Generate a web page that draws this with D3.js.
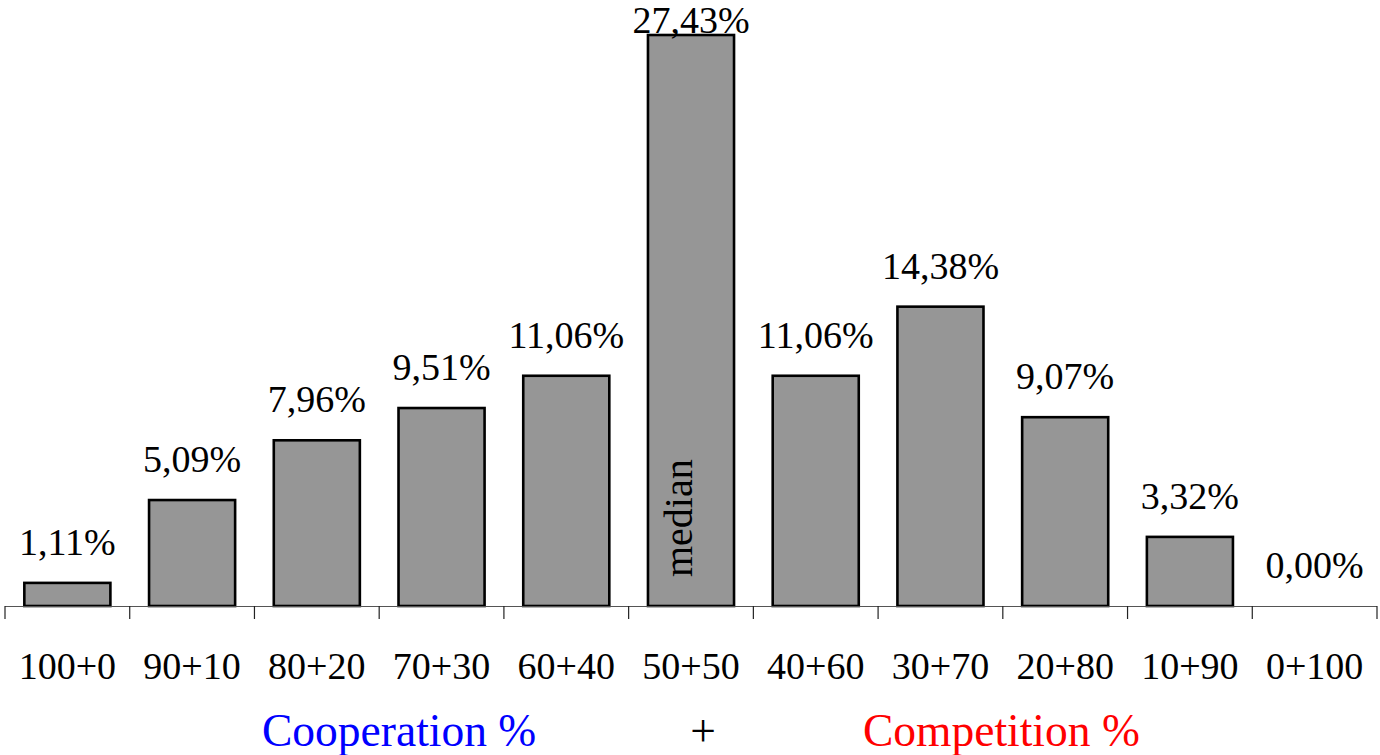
<!DOCTYPE html>
<html>
<head>
<meta charset="utf-8">
<script src="https://cdn.jsdelivr.net/npm/d3@7"></script>
<style>
  html, body { margin: 0; padding: 0; background: #fff; }
  svg { display: block; }
</style>
</head>
<body>
<svg id="chart" width="1380" height="755"></svg>
<script>
// Share of responses per cooperation/competition split
const categories = ["100+0", "90+10", "80+20", "70+30", "60+40", "50+50",
                    "40+60", "30+70", "20+80", "10+90", "0+100"];
const shares = [1.11, 5.09, 7.96, 9.51, 11.06, 27.43, 11.06, 14.38, 9.07, 3.32, 0.00];
const medianCategory = "50+50";
const leftTitle = "Cooperation %";
const joinTitle = "+";
const rightTitle = "Competition %";

const FONT = "'Liberation Serif', Tinos, 'DejaVu Serif', 'Times New Roman', serif";

const svg = d3.select("#chart").attr("font-family", FONT);
const baseY = 606;

const x = d3.scaleBand()
  .domain(categories)
  .range([5, 1377])
  .paddingInner(0.31)
  .paddingOuter(0.155);

const y = d3.scaleLinear()
  .domain([0, 27.43])
  .range([baseY, 35]);

const fmt = v => d3.format(".2f")(v).replace(".", ",") + "%";

// Bars
svg.append("g").selectAll("rect")
  .data(categories.map((c, i) => ({ c, v: shares[i] })))
  .join("rect")
  .filter(d => d.v > 0)
  .attr("x", d => x(d.c))
  .attr("y", d => y(d.v))
  .attr("width", x.bandwidth())
  .attr("height", d => baseY - y(d.v))
  .attr("fill", "#969696")
  .attr("stroke", "#000")
  .attr("stroke-width", 2.6);

// Category axis with ticks between categories
const axis = svg.append("g");
axis.append("line")
  .attr("x1", 5).attr("x2", 1377)
  .attr("y1", baseY + 0.5).attr("y2", baseY + 0.5)
  .attr("stroke", "#555").attr("stroke-width", 1.2);
const boundaries = categories.map(c => x(c) - x.step() * x.paddingInner() / 2);
boundaries.push(1377);
axis.selectAll("line.tick")
  .data(boundaries)
  .join("line")
  .attr("class", "tick")
  .attr("x1", d => d).attr("x2", d => d)
  .attr("y1", baseY).attr("y2", baseY + 13)
  .attr("stroke", "#222").attr("stroke-width", 1.2);

axis.selectAll("text.cat")
  .data(categories)
  .join("text")
  .attr("class", "cat")
  .attr("font-family", FONT)
  .attr("x", d => x(d) + x.bandwidth() / 2)
  .attr("y", 679)
  .attr("text-anchor", "middle")
  .attr("font-size", 38)
  .attr("fill", "#000")
  .text(d => d);

// Value labels above bars
svg.append("g").selectAll("text")
  .data(categories.map((c, i) => ({ c, v: shares[i] })))
  .join("text")
  .attr("font-family", FONT)
  .attr("x", d => x(d.c) + x.bandwidth() / 2)
  .attr("y", d => Math.max(y(d.v) - 28, 33))
  .attr("text-anchor", "middle")
  .attr("font-size", 38)
  .attr("fill", "#000")
  .text(d => fmt(d.v));

// Median marker inside the central bar
const mx = x(medianCategory) + x.bandwidth() / 2 + 1;
svg.append("text")
  .attr("font-family", FONT)
  .attr("transform", `translate(${mx},${baseY - 29}) rotate(-90)`)
  .attr("text-anchor", "start")
  .attr("font-size", 40)
  .attr("fill", "#000")
  .text("median");

// Axis titles
svg.append("text")
  .attr("font-family", FONT)
  .attr("x", 262).attr("y", 746)
  .attr("font-size", 45.5)
  .attr("fill", "#0000ff")
  .text(leftTitle);
svg.append("text")
  .attr("font-family", FONT)
  .attr("x", 703).attr("y", 746)
  .attr("text-anchor", "middle")
  .attr("font-size", 45.5)
  .attr("fill", "#000")
  .text(joinTitle);
svg.append("text")
  .attr("font-family", FONT)
  .attr("x", 863).attr("y", 746)
  .attr("font-size", 45.5)
  .attr("fill", "#ff0000")
  .text(rightTitle);
</script>
</body>
</html>
